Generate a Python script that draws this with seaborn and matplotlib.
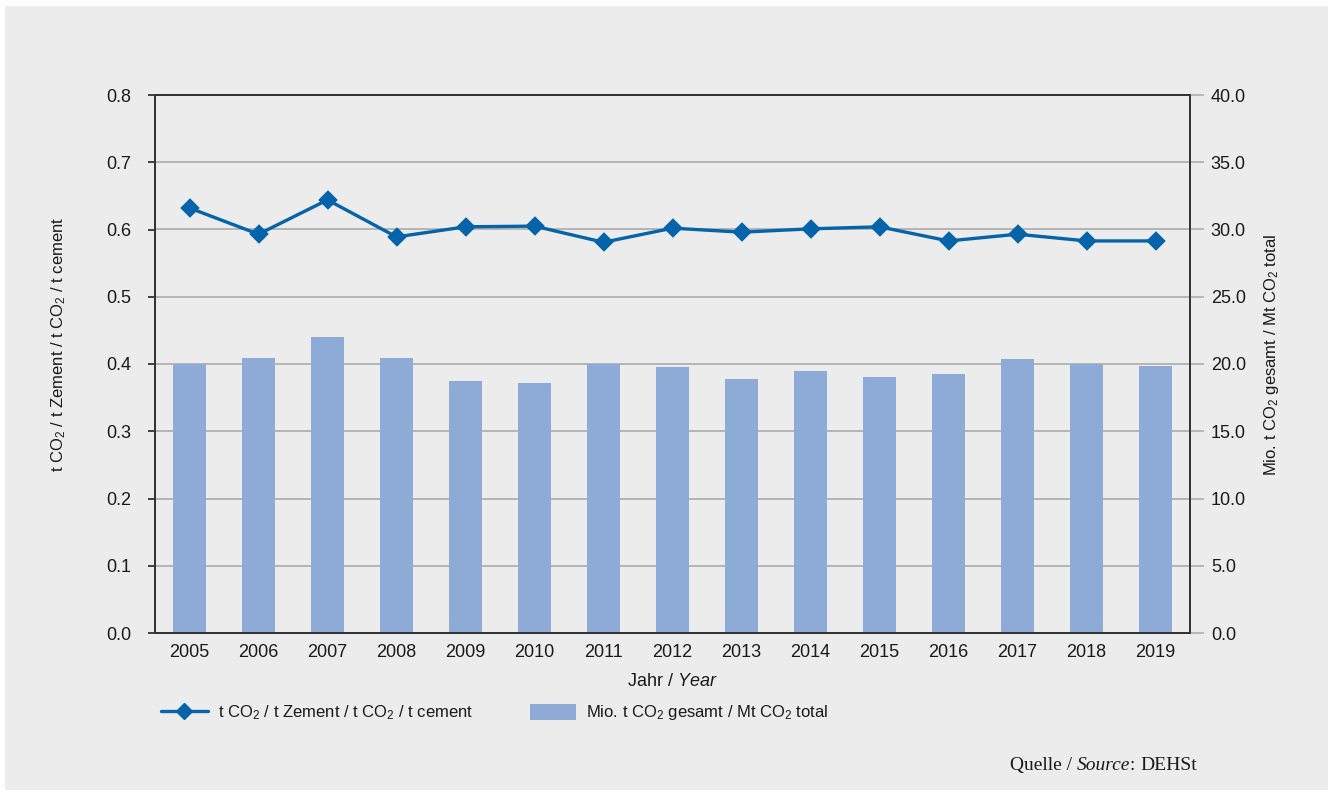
import numpy as np
import pandas as pd
import matplotlib
matplotlib.use("Agg")
import matplotlib.pyplot as plt
import seaborn as sns
from matplotlib.patches import Rectangle

# data
years = ["2005", "2006", "2007", "2008", "2009", "2010", "2011", "2012",
         "2013", "2014", "2015", "2016", "2017", "2018", "2019"]
# t CO2 per t cement (left axis)
specific = [0.632, 0.593, 0.644, 0.589, 0.604, 0.605, 0.581, 0.602,
            0.596, 0.601, 0.604, 0.583, 0.593, 0.583, 0.583]
# Mio. t CO2 total (right axis)
total = [20.0, 20.45, 22.0, 20.45, 18.7, 18.6, 20.0, 19.8,
         18.9, 19.5, 19.0, 19.25, 20.4, 20.0, 19.85]
left_ticks = [0.0, 0.1, 0.2, 0.3, 0.4, 0.5, 0.6, 0.7, 0.8]
right_ticks = [0.0, 5.0, 10.0, 15.0, 20.0, 25.0, 30.0, 35.0, 40.0]

sns.set_theme(style="white")
plt.rcParams["font.family"] = ["Liberation Sans", "DejaVu Sans"]
plt.rcParams["mathtext.fontset"] = "custom"
plt.rcParams["mathtext.rm"] = "Liberation Sans"
plt.rcParams["mathtext.it"] = "Liberation Sans:italic"

line_col = "#0563aa"
bar_col = "#8eaad6"
bg = "#ebeceb"
txt = "#1a1a1a"

fig = plt.figure(figsize=(13.33, 7.96), dpi=100, facecolor="white")
fig.patches.append(Rectangle((5 / 1333, 1 - 790 / 796), 1323 / 1333, 784 / 796,
                             transform=fig.transFigure, facecolor=bg,
                             edgecolor="none", zorder=-10))

ax = fig.add_axes([155 / 1333, 1 - 633 / 796, 1035 / 1333, 538 / 796])
ax2 = ax.twinx()

df = pd.DataFrame({"year": years, "specific": specific, "total": total})

# bars on the right axis
sns.barplot(data=df, x="year", y="total", ax=ax2, color=bar_col,
            saturation=1, width=0.48, linewidth=0, zorder=2)
ax2.set_ylim(0, 40)
ax2.set_yticks(right_ticks)
ax2.set_yticklabels([f"{t:.1f}" for t in right_ticks])
ax2.yaxis.grid(True, color="#b4b4b4", linewidth=1.4, zorder=0)
ax2.set_axisbelow(True)
ax2.set_facecolor("white")

# line on the left axis, drawn above the bars
sns.pointplot(data=df, x="year", y="specific", ax=ax, color=line_col,
              markers="D", markersize=8, linewidth=2.4, errorbar=None)
ax.set_zorder(ax2.get_zorder() + 1)
ax.patch.set_visible(False)
ax.set_ylim(0, 0.8)
ax.set_yticks(left_ticks)
ax.set_yticklabels([f"{t:.1f}" for t in left_ticks])
ax.set_xlim(-0.5, 14.5)
ax.grid(False)

for a in (ax, ax2):
    for s in a.spines.values():
        s.set_color("#333333")
        s.set_linewidth(1.3)

ax.tick_params(axis="y", length=5, width=1.3, color="#333333", pad=12,
               labelsize=13, labelcolor=txt, left=True)
ax.tick_params(axis="x", length=0, pad=8, labelsize=13, labelcolor=txt)
ax2.tick_params(axis="y", length=10, width=1.3, color="#b4b4b4", pad=5,
                labelsize=13, labelcolor=txt, right=True)
ax2.set_xlabel("")

ax.set_xlabel(r"Jahr / $\mathit{Year}$", fontsize=13, color=txt)
ax.xaxis.set_label_coords(0.5, -0.074)
ax.set_ylabel(r"t CO$_2$ / t Zement / t CO$_2$ / t cement", fontsize=12, color=txt)
ax.yaxis.set_label_coords(-0.084, 0.537)
ax2.set_ylabel(r"Mio. t CO$_2$ gesamt / Mt CO$_2$ total", fontsize=12, color=txt)
ax2.yaxis.set_label_coords(1.07, 0.517)

# legend
h_line = plt.Line2D([], [], color=line_col, marker="D", markersize=8, linewidth=2.4)
h_bar = Rectangle((0, 0), 1, 1, facecolor=bar_col, edgecolor="none")
fig.legend([h_line, h_bar],
           [r"t CO$_2$ / t Zement / t CO$_2$ / t cement",
            r"Mio. t CO$_2$ gesamt / Mt CO$_2$ total"],
           loc="center left", bbox_to_anchor=(146 / 1333, 1 - 713 / 796),
           ncol=2, frameon=False, fontsize=12, handlelength=2.8,
           handletextpad=0.6, columnspacing=3.4, handleheight=1.1,
           labelcolor=txt)

# source note, right aligned
fig.canvas.draw()
r = fig.canvas.get_renderer()
x_end = 1197
y_base = 1 - 770 / 796
parts = [("DEHSt", "normal"), (": ", "normal"), ("Source", "italic"), ("Quelle / ", "normal")]
for s, style in parts:
    t = fig.text(x_end / 1333, y_base, s, ha="right", va="baseline",
                 fontsize=14, fontstyle=style, color=txt,
                 family=["Liberation Serif", "DejaVu Serif"])
    bb = t.get_window_extent(renderer=r)
    x_end = bb.x0

fig.savefig("out.png", dpi=100, facecolor=fig.get_facecolor())
